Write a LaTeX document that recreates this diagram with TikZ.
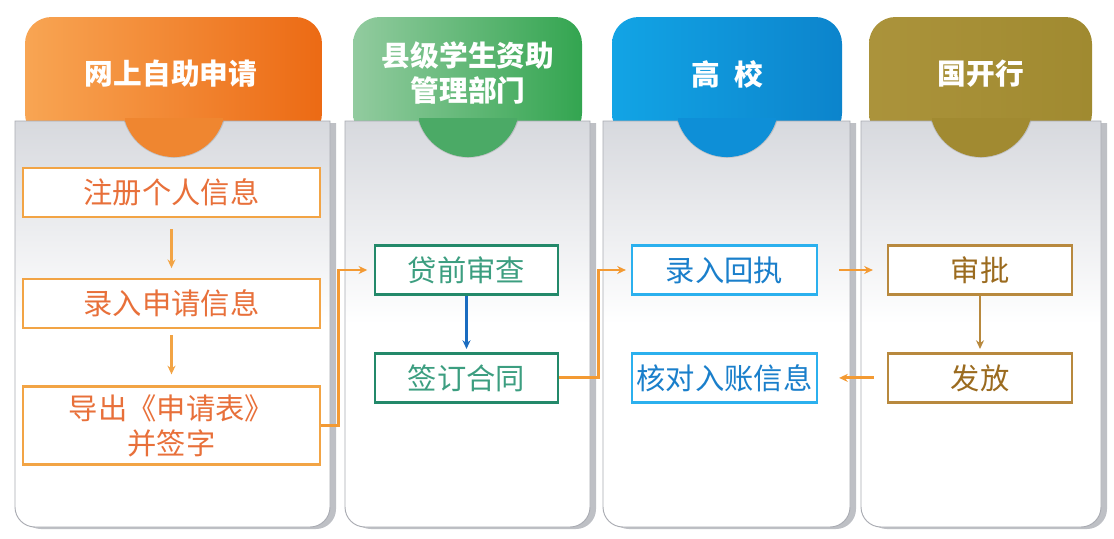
\documentclass[tikz,border=0pt]{standalone}
\usepackage{fontspec}
\newfontfamily\cjk{Noto Sans CJK SC}
\usetikzlibrary{positioning,arrows.meta}
\definecolor{tabOrL}{HTML}{F8A553}
\definecolor{tabOrR}{HTML}{EC6A14}
\definecolor{tabOrB}{HTML}{EF8630}
\definecolor{tabGrL}{HTML}{92CB9F}
\definecolor{tabGrR}{HTML}{33A550}
\definecolor{tabGrB}{HTML}{4BAA66}
\definecolor{tabBlL}{HTML}{12A4E5}
\definecolor{tabBlR}{HTML}{0C84CC}
\definecolor{tabBlB}{HTML}{0E8FD7}
\definecolor{tabOlL}{HTML}{AB933B}
\definecolor{tabOlR}{HTML}{A08A30}
\definecolor{tabOlB}{HTML}{A18A31}
\definecolor{panelTop}{HTML}{D7D9DE}
\definecolor{panelLine}{HTML}{A9ABB2}
\definecolor{panelShade}{HTML}{BEC0C5}
\definecolor{boxOr}{HTML}{F2A445}
\definecolor{txtOr}{HTML}{E8703A}
\definecolor{boxGr}{HTML}{23896A}
\definecolor{txtGr}{HTML}{3C9E80}
\definecolor{boxBl}{HTML}{2BB0EE}
\definecolor{txtBl}{HTML}{1A7FCB}
\definecolor{boxOl}{HTML}{B8893E}
\definecolor{txtOl}{HTML}{9B6B1F}
\definecolor{lineOr}{HTML}{F39A33}
\definecolor{lineBl}{HTML}{1A6CC0}
\tikzset{>={Stealth[length=2.6mm,width=2.4mm]},
  head/.style={text=white,font=\cjk\bfseries\fontsize{24.5pt}{30pt}\selectfont,align=center},
  sbox/.style={draw,fill=white,line width=1.9pt,minimum height=14.7mm,inner sep=0pt,
    font=\cjk\fontsize{25pt}{30pt}\selectfont,align=center},
  obox/.style={sbox,draw=boxOr,text=txtOr,minimum width=89.1mm},
  gbox/.style={sbox,draw=boxGr,text=txtGr,minimum width=54.9mm},
  bbox/.style={sbox,draw=boxBl,text=txtBl,minimum width=55.5mm},
  lbox/.style={sbox,draw=boxOl,text=txtOl,minimum width=55.2mm},
  con/.style={line width=1.8pt,->},
  link/.style={line width=2.5pt,draw=lineOr,->}}
\begin{document}
\begin{tikzpicture}[x=0.3mm,y=-0.3mm]
  \fill[white] (0,0) rectangle (1114,538);
  \useasboundingbox (0,0) rectangle (1114,538);

  % tabs, panels and bulges
  \foreach \pl/\pr/\tl/\tr/\bx/\cl/\cr/\cb in {15/330/25/322/174/tabOrL/tabOrR/tabOrB,
      345/590/353/582/468/tabGrL/tabGrR/tabGrB,
      603/850/612/842/727/tabBlL/tabBlR/tabBlB,
      861/1101/869/1092/981/tabOlL/tabOlR/tabOlB}
  {
    \shade[left color=\cl,right color=\cr,rounded corners=8mm]
      (\tl,140) -- (\tl,17) -- (\tr,17) -- (\tr,140) -- cycle;
    \fill[panelShade,shift={(6,2)}] (\pl,121) -- (\pl,300) [rounded corners=6mm] -- (\pl,527)
      -- (\pr,527) -- (\pr,300) [sharp corners] -- (\pr,121) -- cycle;
    \shade[top color=panelTop,bottom color=white,middle color=white,draw=panelLine,line width=0.8pt]
      (\pl,121) -- (\pl,300) [rounded corners=6mm] -- (\pl,527)
      -- (\pr,527) -- (\pr,300) [sharp corners] -- (\pr,121) -- cycle;
    \fill[black,opacity=0.12] (\bx-50,121) arc[start angle=162.7,end angle=17.3,radius=52.5] -- cycle;
    \fill[\cb] (\bx-49,118) -- (\bx-49,121) arc[start angle=162.7,end angle=17.3,radius=51.3]
      -- (\bx+49,118) -- cycle;
  }

  % headings
  \node (h1) [head] at (171,74) {网上自助申请};
  \node (h2) [head] at (468,73) {县级学生资助\\管理部门};
  \node (h3) [head] at (727,74) {高\hspace{0.5em}校};
  \node (h4) [head] at (981,74) {国开行};

  % boxes
  \node (reg) [obox] at (171.5,192.5) {注册个人信息};
  \node (inp) [obox,below=18mm of reg] {录入申请信息};
  \node (exp) [obox,below=16.8mm of inp,minimum height=23.4mm] {导出《申请表》\\并签字};
  \node (dq) [gbox] at (466.5,270) {贷前审查};
  \node (qd) [gbox,below=17mm of dq] {签订合同};
  \node (lr) [bbox] at (724.5,270) {录入回执};
  \node (hd) [bbox,below=17mm of lr] {核对入账信息};
  \node (sp) [lbox] at (980,270) {审批};
  \node (ff) [lbox,below=17mm of sp] {发放};

  % arrows
  \draw[con,draw=boxOr,shorten <=3.3mm,shorten >=3mm] (reg) -- (inp);
  \draw[con,draw=boxOr,shorten <=1.8mm,shorten >=3.3mm] (inp) -- (exp);
  \draw[link,shorten >=2mm] (exp.east) -- ++(17,0) |- (dq.west);
  \draw[con,draw=lineBl,shorten >=1mm] (dq) -- (qd);
  \draw[link,shorten >=1.5mm] (qd.east) -- ++(39,0) |- (lr.west);
  \draw[link,shorten <=6.3mm,shorten >=4.2mm] (lr.east) -- (sp.west);
  \draw[con,draw=boxOl,shorten >=1mm] (sp) -- (ff);
  \draw[link,shorten <=3.9mm,shorten >=6.3mm] (ff.west) -- (hd.east);
\end{tikzpicture}
\end{document}
